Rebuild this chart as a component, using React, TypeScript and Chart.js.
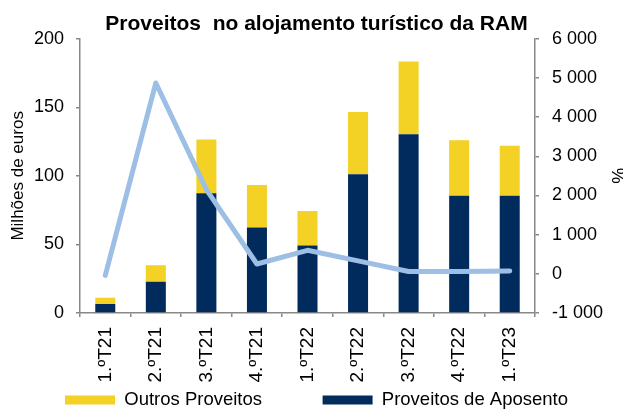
import React, { useEffect, useRef } from "react";
import { Chart, registerables } from "chart.js";

Chart.register(...registerables);

const categories = ["1.ºT21", "2.ºT21", "3.ºT21", "4.ºT21", "1.ºT22", "2.ºT22", "3.ºT22", "4.ºT22", "1.ºT23"];
const proveitosAposento = [6.5, 22.8, 87.3, 62.3, 49.2, 101.1, 130.4, 85.5, 85.5];
const outrosProveitos = [4.6, 12.1, 39.2, 31.0, 25.2, 45.5, 52.9, 40.5, 36.4];
const variacaoPct = [-40, 4870, 2150, 250, 600, 330, 60, 60, 75];

const titleText = "Proveitos  no alojamento turístico da RAM";
const leftAxisTitle = "Milhões de euros";
const rightAxisTitle = "%";
const labelAposento = "Proveitos de Aposento";
const labelOutros = "Outros Proveitos";

const FONT = "'Liberation Sans', Arial, Helvetica, sans-serif";
const AXIS = "#888888";

function fmtThousands(v: number): string {
  const n = Math.round(Number(v));
  const s = Math.abs(n).toString().replace(/\B(?=(\d{3})+(?!\d))/g, " ");
  return (n < 0 ? "-" : "") + s;
}

export default function App() {
  const ref = useRef<HTMLCanvasElement | null>(null);

  useEffect(() => {
    if (!ref.current) return;
    const chart = new Chart(ref.current, {
      type: "bar",
      data: {
        labels: categories,
        datasets: [
          {
            type: "line",
            label: "Variação",
            data: variacaoPct,
            yAxisID: "y2",
            borderColor: "#9dbfe5",
            backgroundColor: "#9dbfe5",
            borderWidth: 5,
            pointRadius: 0,
            tension: 0,
            borderCapStyle: "round",
            borderJoinStyle: "round",
            order: 0,
          } as any,
          {
            type: "bar",
            label: labelAposento,
            data: proveitosAposento,
            yAxisID: "y",
            backgroundColor: "#002b5c",
            borderWidth: 0,
            stack: "s",
            order: 1,
            categoryPercentage: 0.8,
            barPercentage: 0.495,
          },
          {
            type: "bar",
            label: labelOutros,
            data: outrosProveitos,
            yAxisID: "y",
            backgroundColor: "#f4d125",
            borderWidth: 0,
            stack: "s",
            order: 1,
            categoryPercentage: 0.8,
            barPercentage: 0.495,
          },
        ],
      },
      options: {
        responsive: false,
        animation: false,
        events: [],
        layout: { padding: { left: 10, right: 0, top: 0, bottom: 0 } },
        plugins: {
          tooltip: { enabled: false },
          title: {
            display: true,
            text: titleText,
            color: "#000",
            font: { family: FONT, size: 21, weight: "bold", lineHeight: 1.2 },
            padding: { top: 12, bottom: 1.5 },
          },
          legend: {
            display: true,
            position: "bottom",
            align: "center",
            reverse: true,
            maxHeight: 22.25,
            labels: {
              boxWidth: 50,
              boxHeight: 9,
              padding: 4,
              color: "#000",
              font: { family: FONT, size: 18.5 },
              generateLabels: (c: any) => {
                const items = Chart.defaults.plugins.legend.labels.generateLabels(c);
                return items.map((it: any) =>
                  it.datasetIndex === 2 ? { ...it, text: it.text + " ".repeat(11) } : it
                );
              },
              filter: (item: any) => item.datasetIndex !== 0,
            },
          },
        },
        scales: {
          x: {
            stacked: true,
            offset: true,
            grid: {
              display: true,
              offset: true,
              drawOnChartArea: false,
              drawTicks: true,
              tickLength: 4,
              color: AXIS,
              lineWidth: 1.5,
            },
            border: { display: true, color: AXIS, width: 1.5 },
            ticks: {
              color: "#000",
              font: { family: FONT, size: 19 },
              minRotation: 90,
              maxRotation: 90,
              padding: 10,
              autoSkip: false,
            },
            afterFit: (scale: any) => {
              scale.height = 73.75;
            },
          },
          y: {
            stacked: true,
            position: "left",
            min: 0,
            max: 200,
            grid: {
              display: true,
              drawOnChartArea: false,
              drawTicks: true,
              tickLength: 4,
              color: AXIS,
              lineWidth: 1.5,
            },
            border: { display: true, color: AXIS, width: 1.5 },
            ticks: {
              stepSize: 50,
              color: "#000",
              font: { family: FONT, size: 18 },
              padding: 12,
            },
            title: {
              display: true,
              text: leftAxisTitle,
              color: "#000",
              font: { family: FONT, size: 17, lineHeight: 1.2 },
              padding: { top: -1.4, bottom: 0 },
            },
            afterFit: (scale: any) => {
              scale.width = 70;
            },
          },
          y2: {
            position: "right",
            min: -1000,
            max: 6000,
            grid: {
              display: true,
              drawOnChartArea: false,
              drawTicks: true,
              tickLength: 4,
              color: AXIS,
              lineWidth: 1.5,
            },
            border: { display: true, color: AXIS, width: 1.5 },
            ticks: {
              stepSize: 1000,
              color: "#000",
              font: { family: FONT, size: 18 },
              padding: 13,
              callback: (v: any) => fmtThousands(v),
            },
            title: {
              display: true,
              text: rightAxisTitle,
              color: "#000",
              font: { family: FONT, size: 18, lineHeight: 0.72 },
              padding: { top: 0, bottom: 0 },
            },
            afterFit: (scale: any) => {
              scale.width = 88;
            },
          },
        },
      } as any,
    });
    return () => chart.destroy();
  }, []);

  return (
    <div style={{ position: "fixed", left: 0, top: 0, width: 623, height: 409, background: "#fff" }}>
      <canvas ref={ref} width={623} height={409} style={{ display: "block" }} />
    </div>
  );
}
